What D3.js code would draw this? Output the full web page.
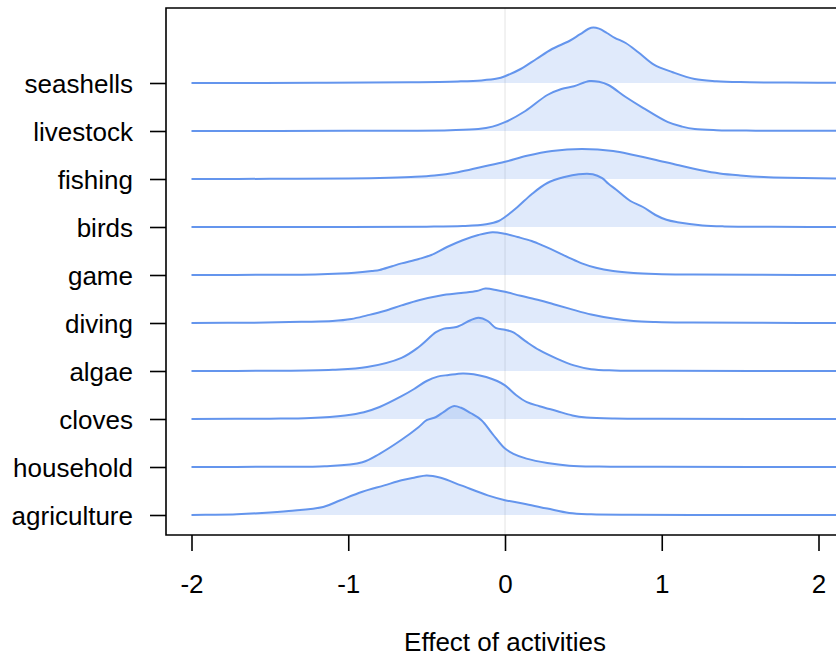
<!DOCTYPE html>
<html>
<head>
<meta charset="utf-8">
<script src="https://cdn.jsdelivr.net/npm/d3@7"></script>
<style>
  html, body { margin: 0; padding: 0; background: #fff; }
  svg { display: block; }
  text { font-family: "Liberation Sans", Arial, Helvetica, sans-serif; fill: #000; }
</style>
</head>
<body>
<svg id="chart" width="836" height="665"></svg>
<script>
// Activities, listed from the top ridge to the bottom ridge
const activities = ["seashells", "livestock", "fishing", "birds", "game",
                    "diving", "algae", "cloves", "household", "agriculture"];

const xTicks = [-2, -1, 0, 1, 2];
const xTitle = "Effect of activities";

// Estimated posterior density of each activity effect: [effect, density]
const seashells = [[-2,0],[-1.2,0.005],[-0.6,0.02],[-0.3,0.04],[-0.15,0.065],[-0.05,0.11],[0,0.17],[0.1,0.35],[0.2,0.6],[0.3,0.85],[0.41,1.05],[0.48,1.22],[0.55,1.38],[0.6,1.36],[0.65,1.25],[0.7,1.13],[0.77,1.0],[0.85,0.77],[0.95,0.46],[1.07,0.27],[1.21,0.1],[1.35,0.045],[1.5,0.022],[1.8,0.01],[2.25,0.005]];
const livestock = [[-2,0],[-1,0.004],[-0.6,0.008],[-0.35,0.02],[-0.17,0.05],[-0.08,0.11],[0,0.22],[0.13,0.5],[0.27,0.9],[0.36,1.05],[0.44,1.12],[0.54,1.25],[0.6,1.23],[0.66,1.15],[0.77,0.85],[0.88,0.58],[1.04,0.22],[1.13,0.11],[1.21,0.05],[1.35,0.02],[1.6,0.008],[2.25,0.003]];
const fishing = [[-2,0],[-1.5,0.004],[-1.0,0.013],[-0.8,0.025],[-0.6,0.05],[-0.45,0.085],[-0.3,0.17],[-0.15,0.3],[0,0.43],[0.14,0.58],[0.3,0.7],[0.49,0.75],[0.69,0.7],[0.82,0.6],[0.95,0.49],[1.1,0.35],[1.25,0.22],[1.37,0.14],[1.5,0.09],[1.65,0.05],[1.8,0.03],[2.0,0.018],[2.25,0.013]];
const birds = [[-2,0],[-1,0.003],[-0.5,0.008],[-0.27,0.025],[-0.12,0.07],[-0.04,0.15],[0,0.25],[0.08,0.5],[0.17,0.82],[0.27,1.1],[0.38,1.25],[0.47,1.32],[0.56,1.32],[0.62,1.22],[0.66,1.08],[0.71,0.93],[0.8,0.65],[0.88,0.5],[0.96,0.3],[1.03,0.18],[1.1,0.12],[1.26,0.04],[1.4,0.015],[1.7,0.005],[2.25,0.002]];
const game = [[-2,0.002],[-1.5,0.005],[-1.21,0.013],[-1.05,0.035],[-0.96,0.057],[-0.85,0.1],[-0.8,0.125],[-0.72,0.22],[-0.66,0.29],[-0.55,0.4],[-0.47,0.5],[-0.37,0.7],[-0.27,0.87],[-0.17,1.0],[-0.08,1.07],[0,1.03],[0.08,0.95],[0.17,0.85],[0.25,0.72],[0.33,0.58],[0.41,0.43],[0.49,0.29],[0.58,0.18],[0.69,0.1],[0.82,0.05],[0.96,0.025],[1.2,0.01],[1.6,0.004],[2.25,0.002]];
const diving = [[-2,0.003],[-1.6,0.008],[-1.3,0.03],[-1.1,0.05],[-0.98,0.1],[-0.88,0.19],[-0.77,0.3],[-0.66,0.44],[-0.55,0.57],[-0.41,0.69],[-0.28,0.75],[-0.18,0.8],[-0.125,0.86],[-0.05,0.82],[0,0.78],[0.1,0.68],[0.22,0.57],[0.31,0.47],[0.41,0.36],[0.55,0.21],[0.69,0.11],[0.82,0.05],[0.96,0.025],[1.2,0.01],[1.6,0.004],[2.25,0.002]];
const algae = [[-2,0.002],[-1.5,0.006],[-1.1,0.033],[-0.88,0.1],[-0.66,0.33],[-0.55,0.6],[-0.44,0.97],[-0.39,1.06],[-0.31,1.1],[-0.22,1.27],[-0.17,1.33],[-0.11,1.25],[-0.06,1.08],[0,1.03],[0.05,0.97],[0.14,0.72],[0.22,0.52],[0.33,0.31],[0.44,0.14],[0.55,0.045],[0.7,0.015],[1.0,0.005],[2.25,0.002]];
const cloves = [[-2,0.002],[-1.5,0.008],[-1.24,0.025],[-1.02,0.09],[-0.9,0.17],[-0.8,0.3],[-0.66,0.57],[-0.58,0.75],[-0.5,0.95],[-0.43,1.06],[-0.36,1.1],[-0.27,1.14],[-0.2,1.12],[-0.12,1.05],[-0.05,0.95],[0,0.84],[0.07,0.6],[0.14,0.42],[0.22,0.32],[0.33,0.2],[0.43,0.09],[0.52,0.04],[0.7,0.012],[1.0,0.005],[2.25,0.002]];
const household = [[-2,0.002],[-1.5,0.005],[-1.15,0.018],[-0.91,0.12],[-0.8,0.33],[-0.66,0.68],[-0.55,1.0],[-0.5,1.17],[-0.44,1.25],[-0.39,1.38],[-0.33,1.52],[-0.28,1.48],[-0.22,1.35],[-0.15,1.17],[-0.08,0.83],[0,0.46],[0.054,0.33],[0.137,0.21],[0.27,0.1],[0.41,0.033],[0.6,0.01],[1.0,0.004],[2.25,0.002]];
const agriculture = [[-2,0.002],[-1.85,0.006],[-1.71,0.018],[-1.55,0.05],[-1.38,0.1],[-1.16,0.2],[-1.05,0.37],[-0.91,0.58],[-0.77,0.74],[-0.66,0.87],[-0.58,0.93],[-0.5,0.99],[-0.41,0.93],[-0.28,0.74],[-0.11,0.49],[0,0.37],[0.137,0.27],[0.27,0.16],[0.41,0.05],[0.55,0.018],[0.8,0.006],[1.2,0.003],[2.25,0.002]];

const densities = { seashells, livestock, fishing, birds, game, diving, algae, cloves, household, agriculture };

const svg = d3.select("#chart");
const lineColor = "#6495ED";

// Scales
const x = d3.scaleLinear().domain([-2, 2]).range([191.5, 818.5]);
const y = d3.scalePoint().domain(activities).range([83, 515]);
const h = d3.scaleLinear().domain([0, 1]).range([0, 40]); // density -> ridge height (px)
const curve = d3.curveCatmullRom.alpha(0.5);

const frame = { left: 166, top: 8, bottom: 535 };

// Reference line at zero effect
svg.append("line")
  .attr("x1", x(0)).attr("x2", x(0))
  .attr("y1", frame.top).attr("y2", frame.bottom)
  .attr("stroke", "#e4e4e4").attr("stroke-width", 1);

// Ridges, drawn top to bottom so lower ridges sit over the ones above
const ridges = svg.append("g");
activities.forEach(name => {
  const base = y(name);
  const data = densities[name];
  const area = d3.area()
    .x(d => x(d[0]))
    .y0(base)
    .y1(d => base - h(d[1]))
    .curve(curve);
  const line = d3.line()
    .x(d => x(d[0]))
    .y(d => base - h(d[1]))
    .curve(curve);
  ridges.append("path").attr("d", area(data))
    .attr("fill", lineColor).attr("fill-opacity", 0.2).attr("stroke", "none");
  ridges.append("path").attr("d", line(data))
    .attr("fill", "none").attr("stroke", lineColor).attr("stroke-width", 2)
    .attr("stroke-linejoin", "round");
});

// Plot frame (continues past the right edge)
svg.append("path")
  .attr("d", `M900,${frame.top}H${frame.left}V${frame.bottom}H900`)
  .attr("fill", "none").attr("stroke", "#000").attr("stroke-width", 1.6);

// X axis
const xAxis = d3.axisBottom(x)
  .tickValues(xTicks)
  .tickSize(16)
  .tickPadding(23.5)
  .tickFormat(d => (d < 0 ? "-" + Math.abs(d) : String(d)));
const gx = svg.append("g").attr("transform", `translate(0,${frame.bottom})`).call(xAxis);
gx.select(".domain").remove();
gx.selectAll(".tick line").attr("stroke", "#000").attr("stroke-width", 1.6);
gx.selectAll(".tick text").attr("font-size", 26).attr("font-family", "Liberation Sans, Arial, sans-serif").attr("fill", "#000");

// Y axis
const yAxis = d3.axisLeft(y).tickSize(16).tickPadding(17);
const gy = svg.append("g").attr("transform", `translate(${frame.left},0)`).call(yAxis);
gy.select(".domain").remove();
gy.selectAll(".tick line").attr("stroke", "#000").attr("stroke-width", 1.6);
gy.selectAll(".tick text").attr("font-size", 26).attr("font-family", "Liberation Sans, Arial, sans-serif")
  .attr("fill", "#000").attr("dy", "0.36em");

// Axis title
svg.append("text")
  .attr("x", x(0)).attr("y", 651)
  .attr("text-anchor", "middle")
  .attr("font-size", 26)
  .text(xTitle);
</script>
</body>
</html>
